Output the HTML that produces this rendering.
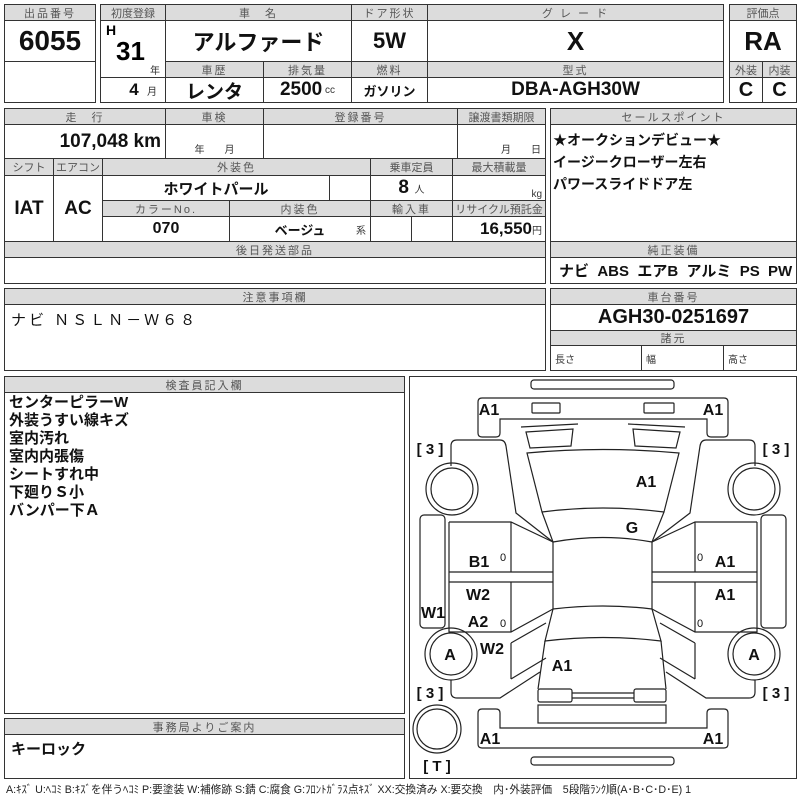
<!DOCTYPE html><html><head><meta charset="utf-8"><style>
body{margin:0;width:800px;height:800px;background:#fff;position:relative;overflow:hidden;font-family:"Liberation Sans","Noto Sans CJK JP",sans-serif}
div{position:absolute;box-sizing:border-box}
.c{border:1px solid #333;display:flex;align-items:center;justify-content:center;color:#111;font-weight:bold;white-space:nowrap}
.h{background:#dcdcdc;color:#555;font-size:11px;font-weight:normal;letter-spacing:2px}
.n{font-family:"Liberation Sans Narrow","Liberation Sans","Noto Sans CJK JP",sans-serif}
.t{border:0;font-size:15px}
.s{font-size:10px;font-weight:normal;color:#333}
</style></head><body>
<!-- box A -->
<div class="c h" style="left:4px;top:4px;width:92px;height:17px">出品番号</div>
<div class="c n" style="left:4px;top:20px;width:92px;height:42px;font-size:28px">6055</div>
<div class="c" style="left:4px;top:61px;width:92px;height:42px"></div>
<!-- box B -->
<div class="c h" style="left:100px;top:4px;width:66px;height:17px;letter-spacing:0">初度登録</div>
<div class="c h" style="left:165px;top:4px;width:187px;height:17px">車　名</div>
<div class="c h" style="left:351px;top:4px;width:77px;height:17px">ドア形状</div>
<div class="c h" style="left:427px;top:4px;width:297px;height:17px">グ レ ー ド</div>
<div class="c" style="left:100px;top:20px;width:66px;height:58px"></div>
<div class="t n" style="left:106px;top:22px;font-size:14px;font-weight:bold">H</div>
<div class="t n" style="left:116px;top:36px;font-size:26px;font-weight:bold">31</div>
<div class="s" style="left:150px;top:62px">年</div>
<div class="c" style="left:100px;top:77px;width:66px;height:26px;font-size:17px;justify-content:flex-end;padding-right:8px">4 <span class="s">&nbsp;&nbsp;&nbsp;月</span></div>
<div class="c" style="left:165px;top:20px;width:187px;height:42px;font-size:22px">アルファード</div>
<div class="c" style="left:351px;top:20px;width:77px;height:42px;font-size:22px">5W</div>
<div class="c" style="left:427px;top:20px;width:297px;height:42px;font-size:26px">X</div>
<div class="c h" style="left:165px;top:61px;width:99px;height:17px">車歴</div>
<div class="c h" style="left:263px;top:61px;width:89px;height:17px">排気量</div>
<div class="c h" style="left:351px;top:61px;width:77px;height:17px">燃料</div>
<div class="c h" style="left:427px;top:61px;width:297px;height:17px">型式</div>
<div class="c" style="left:165px;top:77px;width:99px;height:26px;font-size:19px">レンタ</div>
<div class="c n" style="left:263px;top:77px;width:89px;height:26px;font-size:19px">2500 <span class="s">&nbsp;cc</span></div>
<div class="c" style="left:351px;top:77px;width:77px;height:26px;font-size:13px">ガソリン</div>
<div class="c n" style="left:427px;top:77px;width:297px;height:26px;font-size:19px">DBA-AGH30W</div>
<div class="c h" style="left:729px;top:4px;width:68px;height:17px;letter-spacing:0">評価点</div>
<div class="c" style="left:729px;top:20px;width:68px;height:42px;font-size:26px">RA</div>
<div class="c h" style="left:729px;top:61px;width:34px;height:17px;letter-spacing:0">外装</div>
<div class="c h" style="left:762px;top:61px;width:35px;height:17px;letter-spacing:0">内装</div>
<div class="c" style="left:729px;top:77px;width:34px;height:26px;font-size:20px">C</div>
<div class="c" style="left:762px;top:77px;width:35px;height:26px;font-size:20px">C</div>
<!-- box C -->
<div class="c h" style="left:4px;top:108px;width:162px;height:17px">走　行</div>
<div class="c h" style="left:165px;top:108px;width:99px;height:17px">車検</div>
<div class="c h" style="left:263px;top:108px;width:195px;height:17px">登録番号</div>
<div class="c h" style="left:457px;top:108px;width:89px;height:17px;letter-spacing:0">譲渡書類期限</div>
<div class="c n" style="left:4px;top:124px;width:162px;height:35px;font-size:19px;justify-content:flex-end;padding-right:4px">107,048 km</div>
<div class="c s" style="left:165px;top:124px;width:99px;height:35px;align-items:flex-end;padding-bottom:2px">年　　月</div>
<div class="c" style="left:263px;top:124px;width:195px;height:35px"></div>
<div class="c s" style="left:457px;top:124px;width:89px;height:35px;align-items:flex-end;padding-bottom:2px;justify-content:flex-end;padding-right:4px">月　　日</div>
<div class="c h" style="left:4px;top:158px;width:50px;height:18px;letter-spacing:0">シフト</div>
<div class="c h" style="left:53px;top:158px;width:50px;height:18px;letter-spacing:0">エアコン</div>
<div class="c h" style="left:102px;top:158px;width:269px;height:18px">外装色</div>
<div class="c h" style="left:370px;top:158px;width:83px;height:18px;letter-spacing:0">乗車定員</div>
<div class="c h" style="left:452px;top:158px;width:94px;height:18px;letter-spacing:0">最大積載量</div>
<div class="c n" style="left:4px;top:175px;width:50px;height:67px;font-size:19px">IAT</div>
<div class="c n" style="left:53px;top:175px;width:50px;height:67px;font-size:19px">AC</div>
<div class="c" style="left:102px;top:175px;width:228px;height:26px;font-size:15px">ホワイトパール</div>
<div class="c" style="left:329px;top:175px;width:42px;height:26px"></div>
<div class="c" style="left:370px;top:175px;width:83px;height:26px;font-size:19px">8 <span class="s">&nbsp;&nbsp;人</span></div>
<div class="c s" style="left:452px;top:175px;width:94px;height:26px;justify-content:flex-end;padding-right:3px;align-items:flex-end">kg</div>
<div class="c h" style="left:102px;top:200px;width:128px;height:17px">カラーNo.</div>
<div class="c h" style="left:229px;top:200px;width:142px;height:17px">内装色</div>
<div class="c h" style="left:370px;top:200px;width:83px;height:17px">輸入車</div>
<div class="c h" style="left:452px;top:200px;width:94px;height:17px;letter-spacing:0">リサイクル預託金</div>
<div class="c n" style="left:102px;top:216px;width:128px;height:26px;font-size:16px">070</div>
<div class="c" style="left:229px;top:216px;width:142px;height:26px;font-size:13px">ベージュ<span class="s" style="position:absolute;right:4px">系</span></div>
<div class="c" style="left:370px;top:216px;width:42px;height:26px"></div>
<div class="c" style="left:411px;top:216px;width:42px;height:26px"></div>
<div class="c n" style="left:452px;top:216px;width:94px;height:26px;font-size:17px;justify-content:flex-end;padding-right:3px">16,550<span class="s">円</span></div>
<div class="c h" style="left:4px;top:241px;width:542px;height:17px">後日発送部品</div>
<div class="c" style="left:4px;top:257px;width:542px;height:27px"></div>
<!-- box D -->
<div class="c h" style="left:550px;top:108px;width:247px;height:17px">セールスポイント</div>
<div class="c" style="left:550px;top:124px;width:247px;height:118px;display:block;font-size:14px;line-height:22px;padding:4px 0 0 2px">★オークションデビュー★<br>イージークローザー左右<br>パワースライドドア左</div>
<div class="c h" style="left:550px;top:241px;width:247px;height:17px">純正装備</div>
<div class="c n" style="left:550px;top:257px;width:247px;height:27px;font-size:15px;justify-content:flex-start;padding-left:8px">ナビ&nbsp; ABS&nbsp; エアB&nbsp; アルミ&nbsp; PS&nbsp; PW</div>
<!-- box E -->
<div class="c h" style="left:4px;top:288px;width:542px;height:17px">注意事項欄</div>
<div class="c" style="left:4px;top:304px;width:542px;height:67px;display:block;font-size:15px;font-weight:normal;padding:4px 6px;letter-spacing:3px">ナビ ＮＳＬＮ－Ｗ６８</div>
<!-- box F -->
<div class="c h" style="left:550px;top:288px;width:247px;height:17px">車台番号</div>
<div class="c n" style="left:550px;top:304px;width:247px;height:27px;font-size:20px">AGH30-0251697</div>
<div class="c h" style="left:550px;top:330px;width:247px;height:16px">諸元</div>
<div class="c s" style="left:550px;top:345px;width:92px;height:26px;justify-content:flex-start;padding-left:4px">長さ</div>
<div class="c s" style="left:641px;top:345px;width:83px;height:26px;justify-content:flex-start;padding-left:4px">幅</div>
<div class="c s" style="left:723px;top:345px;width:74px;height:26px;justify-content:flex-start;padding-left:4px">高さ</div>
<!-- box G -->
<div class="c h" style="left:4px;top:376px;width:401px;height:17px">検査員記入欄</div>
<div class="c" style="left:4px;top:392px;width:401px;height:322px;display:block;font-size:15px;line-height:18px;padding:1px 4px">センターピラーW<br>外装うすい線キズ<br>室内汚れ<br>室内内張傷<br>シートすれ中<br>下廻りＳ小<br>バンパー下Ａ</div>
<div class="c h" style="left:4px;top:718px;width:401px;height:17px">事務局よりご案内</div>
<div class="c" style="left:4px;top:734px;width:401px;height:45px;display:block;font-size:15px;padding:3px 6px">キーロック</div>
<div class="c" style="left:409px;top:376px;width:388px;height:403px"></div>
<div class="t" style="left:6px;top:782px;font-size:10.7px;color:#222;white-space:nowrap">A:ｷｽﾞ U:ﾍｺﾐ B:ｷｽﾞを伴うﾍｺﾐ P:要塗装 W:補修跡 S:錆 C:腐食 G:ﾌﾛﾝﾄｶﾞﾗｽ点ｷｽﾞ XX:交換済み X:要交換　内･外装評価　5段階ﾗﾝｸ順(A･B･C･D･E) 1</div>
<svg width="800" height="800" style="position:absolute;left:0;top:0" fill="none" stroke="#222" stroke-width="1.2">
<g id="L">
<rect x="531" y="380" width="143" height="9" rx="3"/>
<path d="M478,402q0,-4 4,-4H724q4,0 4,4V433q0,4 -4,4H711q-4,0 -4,-4V419H500V433q0,4 -4,4H482q-4,0 -4,-4Z"/>
<rect x="532" y="403" width="28" height="10" rx="1"/>
<rect x="644" y="403" width="30" height="10" rx="1"/>
<path d="M521,427L578,424M526,432L573,429L571,446L530,448Z"/>
<path d="M685,427L628,424M680,432L633,429L635,446L676,448Z"/>
<path d="M527,453Q603,446 679,453L664,512Q603,504 542,512Z"/>
<path d="M542,512L553,542Q603,533 652,542L664,512"/>
<path d="M553,542V609Q603,603 652,609V542"/>
<path d="M553,609L545,641Q603,634 661,641L652,609"/>
<path d="M545,641L538,689M661,641L666,689"/>
<rect x="538" y="689" width="34" height="13" rx="2"/>
<rect x="634" y="689" width="32" height="13" rx="2"/>
<path d="M572,693H634M572,698H634"/>
<rect x="538" y="705" width="128" height="18"/>
<path d="M478,713q0,-4 4,-4H496q4,0 4,4V728H707V713q0,-4 4,-4H724q4,0 4,4V744q0,4 -4,4H482q-4,0 -4,-4Z"/>
<rect x="531" y="757" width="143" height="8" rx="3"/>
<path d="M451,466V446q0,-6 6,-6H500q5,0 6,6L516,513L553,542"/>
<circle cx="452" cy="489" r="26"/><circle cx="452" cy="489" r="21"/>
<rect x="420" y="515" width="25" height="113" rx="4"/>
<path d="M449,522H511L553,542M511,522V572M449,572H553M449,582H553M449,522V632H511L553,609M511,582V632"/>
<path d="M511,643L546,623M511,679L546,658M511,643V679"/>
<path d="M451,680V692q0,6 6,6H500L540,672"/>
<circle cx="451" cy="654" r="26"/><circle cx="451" cy="654" r="21"/>
<circle cx="437" cy="729" r="24"/><circle cx="437" cy="729" r="20"/>
<path d="M755,466V446q0,-6 -6,-6H706q-5,0 -6,6L690,513L652,542"/>
<circle cx="754" cy="489" r="26"/><circle cx="754" cy="489" r="21"/>
<rect x="761" y="515" width="25" height="113" rx="4"/>
<path d="M757,522H695L652,542M695,522V572M757,572H652M757,582H652M757,522V632H695L652,609M695,582V632"/>
<path d="M695,643L660,623M695,679L660,658M695,643V679"/>
<path d="M755,680V692q0,6 -6,6H706L666,672"/>
<circle cx="754" cy="654" r="26"/><circle cx="754" cy="654" r="21"/>
</g>
<g fill="#111" stroke="none" font-family="Liberation Sans,sans-serif" font-weight="bold" font-size="16" text-anchor="middle">
<text x="489" y="415">A1</text><text x="713" y="415">A1</text>
<text x="646" y="487">A1</text><text x="632" y="533">G</text>
<text x="479" y="567">B1</text><text x="725" y="567">A1</text>
<text x="478" y="600">W2</text><text x="725" y="600">A1</text>
<text x="433" y="618">W1</text><text x="478" y="627">A2</text>
<text x="492" y="654">W2</text><text x="450" y="660">A</text><text x="754" y="660">A</text>
<text x="562" y="671">A1</text><text x="490" y="744">A1</text><text x="713" y="744">A1</text>
<g font-weight="normal" font-size="11"><text x="503" y="561">0</text><text x="700" y="561">0</text><text x="503" y="627">0</text><text x="700" y="627">0</text></g>
<g font-size="15"><text x="430" y="454">[ 3 ]</text><text x="776" y="454">[ 3 ]</text><text x="430" y="698">[ 3 ]</text><text x="776" y="698">[ 3 ]</text><text x="437" y="771">[ T ]</text></g>
</g>
</svg>
</body></html>
